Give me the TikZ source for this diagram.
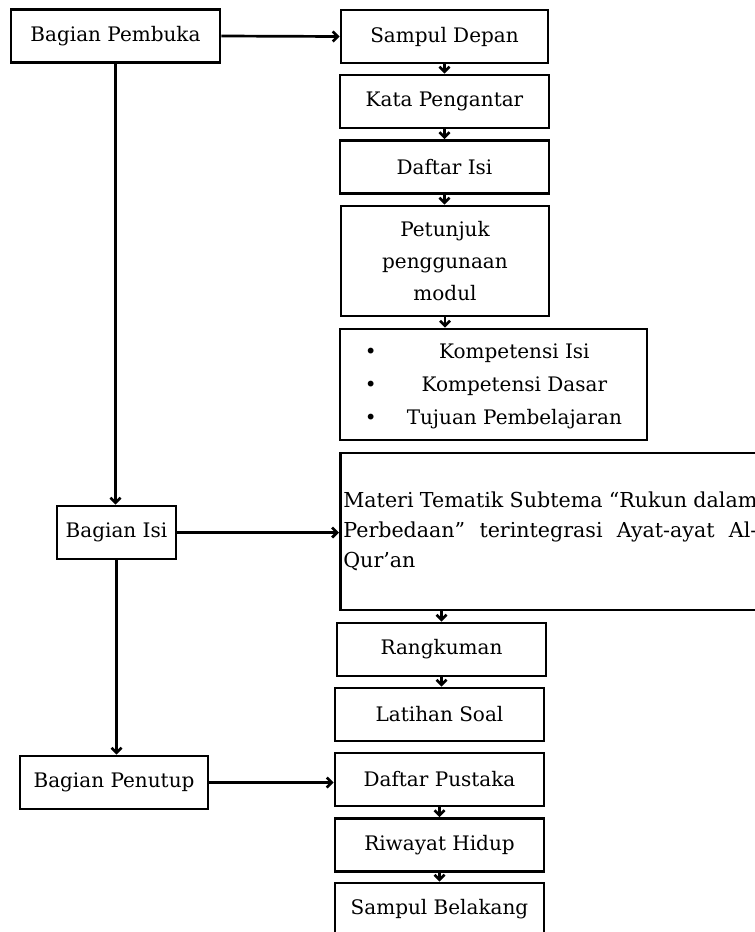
\documentclass[tikz,border=0pt]{standalone}
\usepackage{fontspec}
\setmainfont{DejaVu Serif}
\usetikzlibrary{arrows.meta}
\tikzset{
  kotak/.style={draw, line width=1.35pt, minimum height=26.5pt, align=center,
    inner sep=1.5pt, font=\fontsize{10}{16}\selectfont},
  panah/.style={line width=1.35pt, -{Straight Barb[length=2.5pt,width=5pt]}},
}
\begin{document}
\begin{tikzpicture}[x=0.5pt,y=-0.5pt]
   \useasboundingbox (0,0) rectangle (755,932);

   % Kolom kiri: tiga bagian utama
   \node[kotak, minimum width=104.5pt] (pembuka) at (115.5,36) {Bagian Pembuka};
   \node[kotak, minimum width=59.5pt] (isi) at (116.5,532.5) {Bagian Isi};
   \node[kotak, minimum width=94pt] (penutup) at (114,782.5) {Bagian Penutup};

   % Kolom kanan: bagian pembuka
   \node[kotak, minimum width=103.5pt] (sampul) at (444.5,36.5) {Sampul Depan};
   \node[kotak, minimum width=104.5pt] (kata) at (444.5,101.5) {Kata Pengantar};
   \node[kotak, minimum width=104.5pt] (daftarisi) at (444.5,167) {Daftar Isi};
   \node[kotak, minimum width=104pt, minimum height=55pt] (petunjuk) at (445,261)
      {Petunjuk\\penggunaan\\modul};
   \node[kotak, minimum width=153.5pt, minimum height=55.5pt,
      font=\fontsize{10}{16.5}\selectfont] (kompetensi) at (493.5,384.5)
      {\begin{tabular}{@{}l@{\hspace{15pt}}c@{}}
         • & Kompetensi Isi\\
         • & Kompetensi Dasar\\
         • & Tujuan Pembelajaran
       \end{tabular}};

   % Kolom kanan: bagian isi
   \node[kotak, anchor=west, align=justify, text width=207pt, minimum height=78.5pt,
      font=\fontsize{10.3}{15}\selectfont] (materi) at (339,531.5)
      {Materi Tematik Subtema “Rukun dalam\linebreak
       Perbedaan” terintegrasi Ayat-ayat Al-\linebreak
       Qur’an};
   \node[kotak, minimum width=104.5pt] (rangkuman) at (441.5,649.5) {Rangkuman};
   \node[kotak, minimum width=104.5pt] (latihan) at (439.5,714.5) {Latihan Soal};

   % Kolom kanan: bagian penutup
   \node[kotak, minimum width=104.5pt] (pustaka) at (439.5,779.5) {Daftar Pustaka};
   \node[kotak, minimum width=104.5pt] (riwayat) at (439.5,845) {Riwayat Hidup};
   \node[kotak, minimum width=104.5pt] (belakang) at (439.5,909.5) {Sampul Belakang};

   % Panah utama
   \draw[panah] (pembuka.east) -- (sampul.west);
   \draw[panah] (pembuka.south) -- (pembuka.south |- isi.north);
   \draw[panah] (isi.east) -- (isi.east -| materi.west);
   \draw[panah] (isi.south) -- (isi.south |- penutup.north);
   \draw[panah] (penutup.east) -- (penutup.east -| pustaka.west);

   % Panah antar kotak
   \foreach \a/\b in {sampul/kata, kata/daftarisi, daftarisi/petunjuk,
                      rangkuman/latihan, pustaka/riwayat, riwayat/belakang} {
      \draw[panah] (\a.south) -- (\a.south |- \b.north);
   }
   \draw[panah] (petunjuk.south) -- (petunjuk.south |- kompetensi.north);
   \draw[panah] (rangkuman.north |- materi.south) -- (rangkuman.north);
\end{tikzpicture}
\end{document}
